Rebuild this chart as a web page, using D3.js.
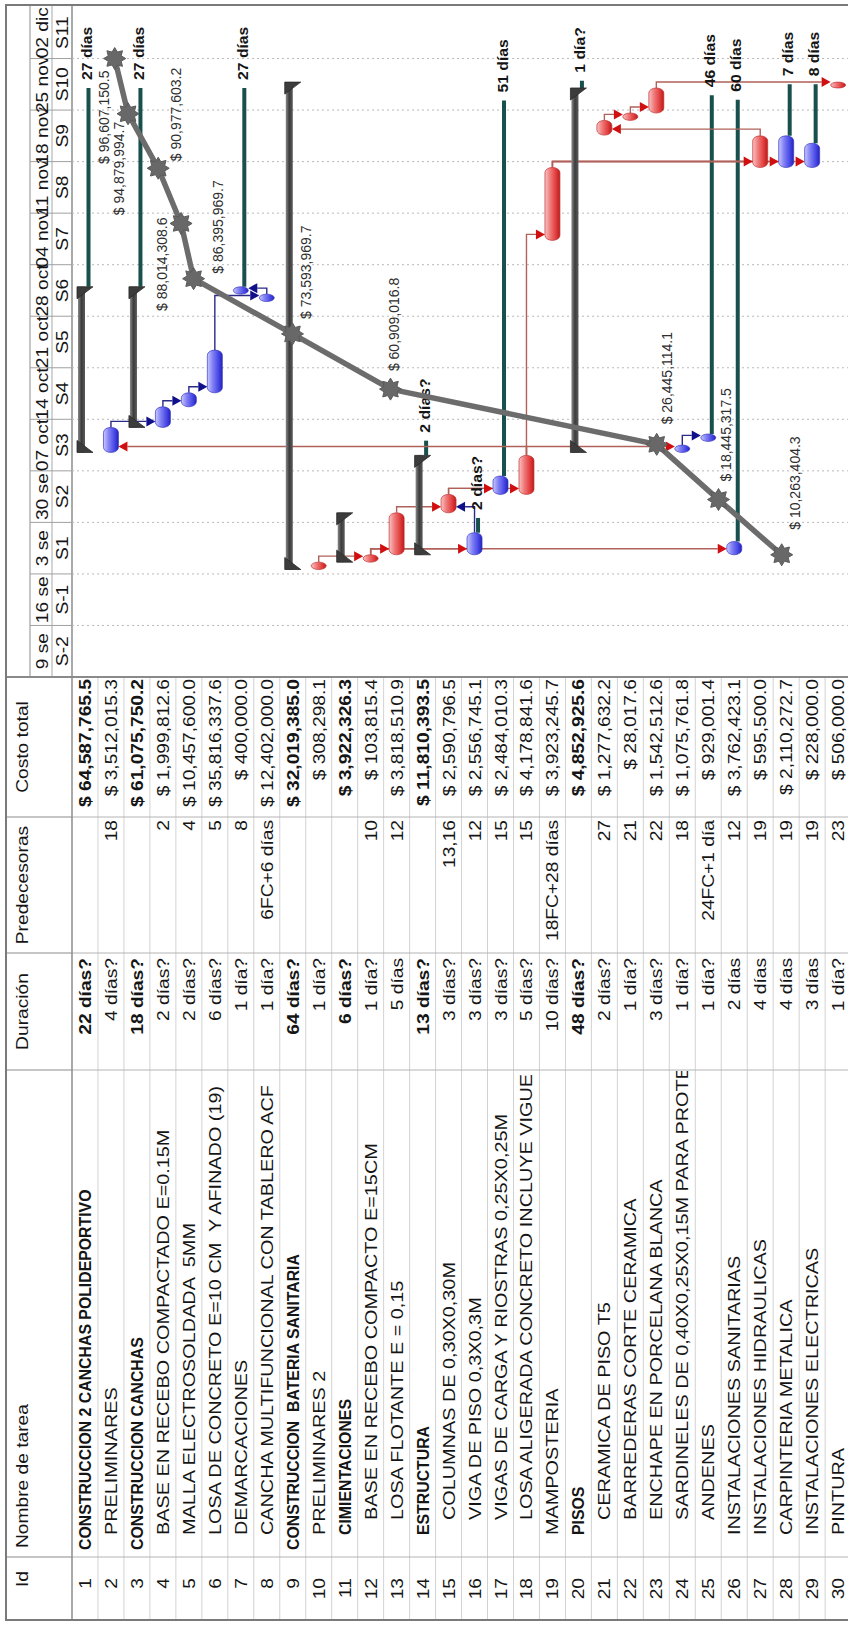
<!DOCTYPE html>
<html lang="es">
<head>
<meta charset="utf-8">
<title>Cronograma de obra y curva de costo acumulado</title>
<script src="https://cdn.jsdelivr.net/npm/d3@7/dist/d3.min.js"></script>
<style>
  html, body { margin: 0; padding: 0; background: #fff; }
  svg { display: block; }
  text { font-family: "Liberation Sans", Arial, sans-serif; }
</style>
</head>
<body>
<svg id="chart" width="848" height="1626"></svg>
<script>
// ---------- Tabla de tareas ----------
const taskNames = [
  "CONSTRUCCION 2 CANCHAS POLIDEPORTIVO",
  "PRELIMINARES",
  "CONSTRUCCION CANCHAS",
  "BASE EN RECEBO COMPACTADO E=0.15M",
  "MALLA ELECTROSOLDADA  5MM",
  "LOSA DE CONCRETO E=10 CM  Y AFINADO (19)",
  "DEMARCACIONES",
  "CANCHA MULTIFUNCIONAL CON TABLERO ACF",
  "CONSTRUCCION  BATERIA SANITARIA",
  "PRELIMINARES 2",
  "CIMIENTACIONES",
  "BASE EN RECEBO COMPACTO E=15CM",
  "LOSA FLOTANTE E = 0,15",
  "ESTRUCTURA",
  "COLUMNAS DE 0,30X0,30M",
  "VIGA DE PISO 0,3X0,3M",
  "VIGAS DE CARGA Y RIOSTRAS 0,25X0,25M",
  "LOSA ALIGERADA CONCRETO INCLUYE VIGUE",
  "MAMPOSTERIA",
  "PISOS",
  "CERAMICA DE PISO T5",
  "BARREDERAS CORTE CERAMICA",
  "ENCHAPE EN PORCELANA BLANCA",
  "SARDINELES DE 0,40X0,25X0,15M PARA PROTE",
  "ANDENES",
  "INSTALACIONES SANITARIAS",
  "INSTALACIONES HIDRAULICAS",
  "CARPINTERIA METALICA",
  "INSTALACIONES ELECTRICAS",
  "PINTURA"
];
// outline hierarchy (used to roll summary bars up from their tasks)
const outlineLevel = [1,2,2,3,3,3,3,3,1,2,2,3,3,2,3,3,3,3,2,2,3,3,3,3,3,2,2,2,2,2];
// indentation steps shown in the name column
const nameIndent   = [0,1,0,1,1,1,1,1,0,1,1,2,2,1,2,2,2,2,1,1,2,2,2,2,2,1,1,1,1,1];
const durations = [
  "22 días?","4 días?","18 días?","2 días?","2 días?","6 días?","1 día?","1 día?",
  "64 días?","1 día?","6 días?","1 día?","5 días","13 días?","3 días?","3 días?",
  "3 días?","5 días?","10 días?","48 días?","2 días?","1 día?","3 días?","1 día?",
  "1 día?","2 días","4 días","4 días","3 días","1 día?"
];
const predecessors = [
  "","18","","2","4","5","8","6FC+6 días","","","","10","12","","13,16","12","15","15",
  "18FC+28 días","","27","21","22","18","24FC+1 día","12","19","19","19","23"
];
const totalCost = [
  64587765.5, 3512015.3, 61075750.2, 1999812.6, 10457600.0, 35816337.6, 400000.0,
  12402000.0, 32019385.0, 308298.1, 3922326.3, 103815.4, 3818510.9, 11810393.5,
  2590796.5, 2556745.1, 2484010.3, 4178841.6, 3923245.7, 4852925.6, 1277632.2,
  28017.6, 1542512.6, 1075761.8, 929001.4, 3762423.1, 595500.0, 2110272.7,
  228000.0, 506000.0
];

// ---------- Programación (días desde el lunes 9 sep 2013) ----------
const startDay  = [null,30.5,null,33.9,36.7,38.6,52.0,51.0,null,14.6,null,15.6,16.6,null,
                   22.3,16.6,24.8,24.8,59.3,null,73.6,75.6,76.6,30.5,32.0,16.6,69.2,69.2,69.2,80.0];
const finishDay = [null,33.9,null,36.7,38.6,44.4,53.0,52.0,null,15.6,null,16.6,22.3,null,
                   24.8,19.6,27.3,30.1,69.2,null,75.6,76.6,80.0,31.5,33.0,18.4,73.5,73.5,72.5,80.8];
const criticalTask = [0,0,0,0,0,0,0,0,0,1,0,1,1,0,1,0,0,1,1,0,1,1,1,0,0,0,1,0,0,1];
const slackDays = [27,null,27,null,null,null,27,null,null,null,null,null,null,2,null,2,51,null,
                   null,1,null,null,null,null,46,60,null,7,8,null];
const slackTentative = [0,0,0,0,0,0,0,0,0,0,0,0,0,1,0,1,0,0,0,1,0,0,0,0,0,0,0,0,0,0];

// ---------- Escala temporal ----------
const weekLabels = ["9 se","16 se","3 se","30 se","07 oct","14 oct","21 oct","28 oct",
                    "04 nov","11 nov","18 nov","25 nov","02 dic"];
const weekCodes  = ["S-2","S-1","S1","S2","S3","S4","S5","S6","S7","S8","S9","S10","S11"];

// ---------- Curva de costo acumulado ----------
const curveDay  = [16.6, 24.1, 31.6, 39.1, 46.6, 54.1, 61.6, 69.1, 76.5, 84.0];
const curveCost = [10263404.3, 18445317.5, 26445114.1, 60909016.8, 73593969.7,
                   86395969.7, 88014308.6, 90977603.2, 94879994.7, 96607150.5];
// label placement next to each point: [dx, dy, anchor]
const curveLabelPlace = [[25,18,"start"],[18,12,"start"],[20,15,"start"],[18,9,"start"],
                         [15,19,"start"],[5,29,"start"],[6,-14,"end"],[7,23,"start"],
                         [-8,-4,"end"],[-12,-6,"end"]];

// ================= layout =================
const W = 1626, H = 848;          // sheet drawn landscape, then turned a quarter
const SX = 1.2;                    // horizontal stretch of the sheet typeface
const colX = [6, 69, 556, 673, 809, 949];
const ganttEnd = 1619;
const headTop = 6, tier1 = 30, tier2 = 52, headBottom = 72;
const rowH = 25.97;
const nRows = taskNames.length;
const rowTop = i => headBottom + i * rowH;
const rowMid = i => rowTop(i) + rowH / 2;

const t0 = Date.UTC(2013, 8, 9);
const dayDate = d => new Date(t0 + d * 864e5);
const xTime = d3.scaleUtc().domain([dayDate(0), dayDate(91)]).range([colX[5], ganttEnd]);
const xDay = d => xTime(dayDate(d));
const weekStarts = d3.utcMonday.range(dayDate(0), dayDate(91));
const costY = d3.scaleLinear().domain([0, 100e6]).range([861, 88.5]);
const fmtCost = v => "$ " + d3.format(",.1f")(v);

// summary extents rolled up from their tasks
const isSummary = outlineLevel.map((l, i) => i + 1 < nRows && outlineLevel[i + 1] > l);
const sumStart = [], sumFinish = [];
isSummary.forEach((s, i) => {
  if (!s) return;
  const kids = [];
  for (let j = i + 1; j < nRows && outlineLevel[j] > outlineLevel[i]; j++)
    if (startDay[j] != null) kids.push(j);
  sumStart[i] = d3.min(kids, j => startDay[j]);
  sumFinish[i] = d3.max(kids, j => finishDay[j]);
});
const barFinish = i => isSummary[i] ? sumFinish[i] : finishDay[i];

// links from the predecessor column
const links = [];
predecessors.forEach((p, i) => {
  if (!p) return;
  p.match(/^[\d,]+/)[0].split(",").forEach(id => links.push({ from: +id - 1, to: i }));
});

// ================= drawing =================
const svg = d3.select("#chart");
const defs = svg.append("defs");

function vGrad(id, stops) {
  const g = defs.append("linearGradient").attr("id", id)
    .attr("x1", 0).attr("y1", 0).attr("x2", 0).attr("y2", 1);
  stops.forEach(([o, c]) => g.append("stop").attr("offset", o).attr("stop-color", c));
}
vGrad("gRed",  [[0, "#f8c4c4"], [0.35, "#f07a7a"], [0.75, "#e03a3a"], [1, "#b81c1c"]]);
vGrad("gBlue", [[0, "#c8c8ff"], [0.35, "#8282f4"], [0.75, "#4646e6"], [1, "#2323b8"]]);
vGrad("gSum",  [[0, "#8a8a8a"], [0.5, "#3c3c3c"], [1, "#5a5a5a"]]);

function clipRect(id, x0, y0, x1, y1) {
  defs.append("clipPath").attr("id", id).append("rect")
    .attr("x", x0).attr("y", y0).attr("width", x1 - x0).attr("height", y1 - y0);
}
clipRect("cName", colX[1] + 1, headBottom, colX[2] - 1, H);
clipRect("cCost", colX[4], 0, colX[5] - 1, H);
clipRect("cGantt", colX[5] + 1, headBottom, ganttEnd, H);

svg.append("rect").attr("width", 848).attr("height", 1626).attr("fill", "#fff");
const root = svg.append("g").attr("transform", `translate(0,${W}) rotate(-90)`);

function addText(sel, x, y, str, o = {}) {
  return sel.append("text")
    .attr("transform", `translate(${x},${y}) scale(${o.sx ?? SX},1)`)
    .attr("text-anchor", o.anchor || "start")
    .attr("font-size", o.size || 16)
    .attr("font-weight", o.bold ? "bold" : null)
    .attr("fill", o.fill || "#151515")
    .style("white-space", "pre")
    .text(str);
}
function hLine(sel, x1, x2, y, stroke, w = 1, dash = null) {
  sel.append("line").attr("x1", x1).attr("x2", x2).attr("y1", y).attr("y2", y)
    .attr("stroke", stroke).attr("stroke-width", w).attr("stroke-dasharray", dash);
}
function vLine(sel, x, y1, y2, stroke, w = 1, dash = null) {
  sel.append("line").attr("x1", x).attr("x2", x).attr("y1", y1).attr("y2", y2)
    .attr("stroke", stroke).attr("stroke-width", w).attr("stroke-dasharray", dash);
}

// ---- table grid ----
const table = root.append("g");
d3.range(nRows).forEach(i => hLine(table, colX[0], colX[5], rowTop(i + 1), "#d2d2d2"));
colX.slice(1, 5).forEach(x => {
  vLine(table, x, headTop, headBottom, "#8c8c8c", 1.2);
  vLine(table, x, headBottom, H, "#b4b4b4");
});
hLine(table, colX[0], colX[5], headBottom, "#8c8c8c", 1.5);

// ---- table header ----
addText(table, 39, 28, "Id");
addText(table, 78, 28, "Nombre de tarea");
addText(table, (colX[2] + colX[3]) / 2, 28, "Duración", { anchor: "middle" });
addText(table, (colX[3] + colX[4]) / 2, 28, "Predecesoras", { anchor: "middle" });
addText(table, (colX[4] + colX[5]) / 2, 28, "Costo total", { anchor: "middle" });

// ---- table rows ----
const nameG = table.append("g").attr("clip-path", "url(#cName)");
const costG = table.append("g").attr("clip-path", "url(#cCost)");
d3.range(nRows).forEach(i => {
  const y = rowTop(i) + 19, bold = isSummary[i];
  addText(table, 48, y, String(i + 1), { anchor: "end" });
  addText(nameG, 76 + nameIndent[i] * 15, y, taskNames[i],
          bold ? { bold, size: 16.5, sx: 0.96 } : { sx: 1.24 });
  addText(table, colX[3] - 5, y, durations[i], { anchor: "end", bold });
  if (predecessors[i]) addText(table, colX[4] - 3, y, predecessors[i], { anchor: "end" });
  addText(costG, colX[5] - 2, y, fmtCost(totalCost[i]), { anchor: "end", bold });
});

// ---- timescale header ----
const head = root.append("g");
hLine(head, colX[5], ganttEnd + 2, tier1, "#8c8c8c");
hLine(head, colX[5], ganttEnd + 2, tier2, "#a8a8a8");
hLine(head, colX[5], ganttEnd + 2, headBottom, "#8c8c8c", 1.5);
weekStarts.forEach((d, k) => {
  const x0 = xTime(d), x1 = xTime(d3.utcDay.offset(d, 7));
  if (k > 0) vLine(head, x0, tier1, headBottom, "#a0a0a0");
  addText(head, (x0 + x1) / 2, 48, weekLabels[k], { anchor: "middle" });
  addText(head, (x0 + x1) / 2, 68, weekCodes[k], { anchor: "middle" });
});

// ---- gantt body ----
const gantt = root.append("g").attr("clip-path", "url(#cGantt)");
weekStarts.slice(1).forEach(d => vLine(gantt, xTime(d), headBottom, H, "#b9b9b9", 1, "2,3"));

// slack lines
const slackEnd = i => xDay(barFinish(i) + slackDays[i]);
d3.range(nRows).filter(i => slackDays[i] != null).forEach(i => {
  hLine(gantt, xDay(barFinish(i)), slackEnd(i), rowTop(i) + 16.5, "#17504c", 4);
});

// links
const barHalf = 7.5, arrowLen = 9, arrowHalf = 5;
const linkG = gantt.append("g"), arrowG = gantt.append("g");
links.forEach(({ from, to }) => {
  const xf = xDay(finishDay[from]), xs = xDay(startDay[to]);
  const xv = Math.max(xs + 6, xf + 4);
  const yp = rowMid(from);
  const down = to > from;
  const tip = down ? rowMid(to) - barHalf : rowMid(to) + barHalf;
  const base = down ? tip - arrowLen : tip + arrowLen;
  const crit = criticalTask[from];
  linkG.append("path")
    .attr("d", `M${xf},${yp}H${xv}V${base}`)
    .attr("fill", "none")
    .attr("stroke", crit ? "#b0625a" : "#2a2a88")
    .attr("stroke-width", 1.4);
  arrowG.append("path")
    .attr("d", `M${xv - arrowHalf},${base}L${xv + arrowHalf},${base}L${xv},${tip}Z`)
    .attr("fill", crit ? "#d01010" : "#10108a");
});

// summary bars
const sumG = gantt.append("g");
d3.range(nRows).filter(i => isSummary[i]).forEach(i => {
  const x0 = xDay(sumStart[i]), x1 = xDay(sumFinish[i]), t = rowTop(i);
  sumG.append("rect").attr("x", x0).attr("y", t + 6).attr("width", x1 - x0).attr("height", 7)
    .attr("fill", "url(#gSum)");
  sumG.append("path").attr("d", `M${x0},${t + 5}L${x0 + 12},${t + 5}L${x0},${t + 21}Z`)
    .attr("fill", "#3c3c3c").attr("stroke", "#2a2a2a").attr("stroke-width", 0.8);
  sumG.append("path").attr("d", `M${x1 - 12},${t + 5}L${x1},${t + 5}L${x1},${t + 21}Z`)
    .attr("fill", "#3c3c3c").attr("stroke", "#2a2a2a").attr("stroke-width", 0.8);
});

// task bars
const taskG = gantt.append("g");
d3.range(nRows).filter(i => !isSummary[i]).forEach(i => {
  const x0 = xDay(startDay[i]), x1 = xDay(finishDay[i]), w = x1 - x0;
  const crit = criticalTask[i];
  taskG.append("rect")
    .attr("x", x0).attr("y", rowMid(i) - barHalf).attr("width", w).attr("height", barHalf * 2)
    .attr("rx", Math.min(5, w / 2)).attr("ry", barHalf)
    .attr("fill", crit ? "url(#gRed)" : "url(#gBlue)")
    .attr("stroke", crit ? "#c23434" : "#3a3ac0").attr("stroke-width", 0.7);
});
gantt.node().appendChild(arrowG.node());

// slack labels
d3.range(nRows).filter(i => slackDays[i] != null).forEach(i => {
  const v = slackDays[i];
  const txt = `${v} ${v === 1 ? "día" : "días"}${slackTentative[i] ? "?" : ""}`;
  addText(gantt, slackEnd(i) + 8, rowTop(i) + 20, txt, { bold: true, size: 15, sx: 1.05 });
});

// ---- cumulative cost curve ----
const curve = gantt.append("g");
const pts = curveDay.map((d, k) => [xDay(d), costY(curveCost[k])]);
curve.append("path")
  .attr("d", d3.line()(pts))
  .attr("fill", "none").attr("stroke", "#6c6c6c").attr("stroke-width", 5.5)
  .attr("stroke-linejoin", "round").attr("stroke-linecap", "round");
function starPath(ro, ri, n) {
  const p = d3.range(n * 2).map(k => {
    const r = k % 2 ? ri : ro, a = Math.PI * k / n;
    return [r * Math.sin(a), -r * Math.cos(a)];
  });
  return "M" + p.join("L") + "Z";
}
curve.selectAll("path.mk").data(pts).join("path").attr("class", "mk")
  .attr("transform", d => `translate(${d[0]},${d[1]})`)
  .attr("d", starPath(11, 7, 8))
  .attr("fill", "#686868").attr("stroke", "#5a5a5a").attr("stroke-width", 1);
pts.forEach((p, k) => {
  const [dx, dy, anchor] = curveLabelPlace[k];
  addText(curve, p[0] + dx, p[1] + dy, fmtCost(curveCost[k]),
          { anchor, size: 14, sx: 1, fill: "#2e2e2e" });
});

// ---- frame ----
vLine(root, colX[5], headTop, H, "#8a8a8a", 2);
root.append("rect").attr("x", colX[0]).attr("y", headTop)
  .attr("width", 1621 - colX[0]).attr("height", H + 10)
  .attr("fill", "none").attr("stroke", "#7a7a7a").attr("stroke-width", 2);
</script>
</body>
</html>
